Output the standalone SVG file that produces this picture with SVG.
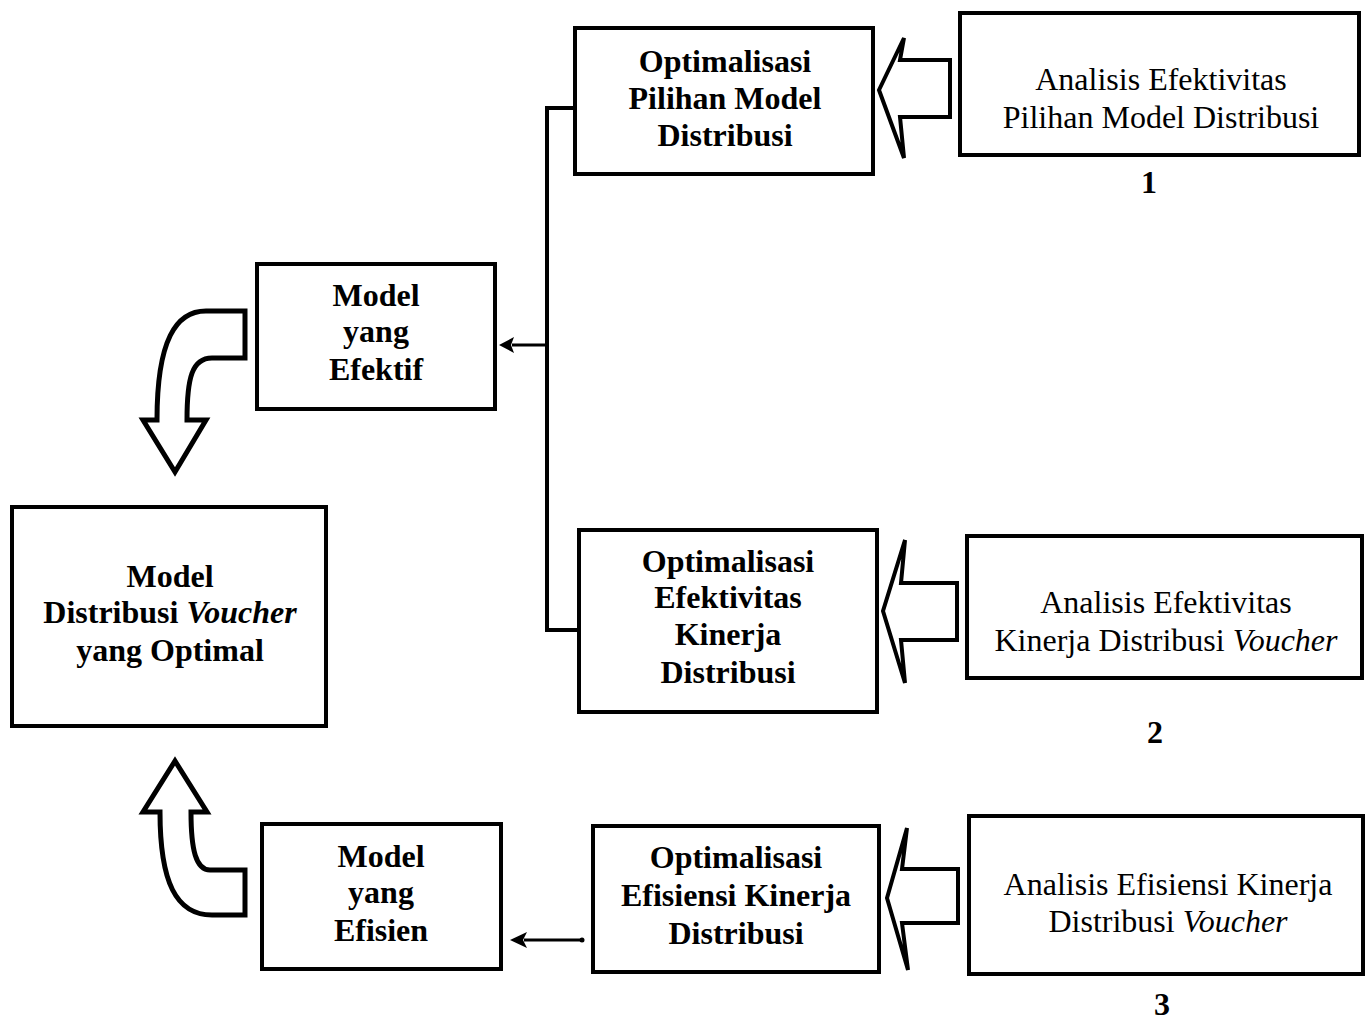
<svg xmlns="http://www.w3.org/2000/svg" width="1366" height="1022" viewBox="0 0 1366 1022">
  <style>
    .box { fill: #ffffff; stroke: #000000; stroke-width: 4; }
    .blk { fill: #ffffff; stroke: #000000; stroke-width: 4; stroke-linejoin: miter; }
    .curl { fill: #ffffff; stroke: #000000; stroke-width: 5; stroke-linejoin: miter; }
    .line { fill: none; stroke: #000000; stroke-width: 4; }
    .thin { fill: none; stroke: #000000; stroke-width: 3; }
    text { font-family: "Liberation Serif", "Times New Roman", serif; font-size: 32px; fill: #000000; text-anchor: middle; }
    .b { font-weight: bold; }
    .i { font-style: italic; }
  </style>

  <rect width="1366" height="1022" fill="#ffffff"/>

  <!-- connectors -->
  <g id="connectors">
    <!-- bracket joining the two effectiveness optimisations -->
    <polyline class="line" points="574,108 547,108 547,630 578,630"/>
    <line class="thin" x1="547" y1="345" x2="512" y2="345"/>
    <path d="M499,345 L514,337 L511,345 L514,353 Z" fill="#000000"/>
    <!-- efficiency optimisation to efficient model -->
    <line class="thin" x1="583" y1="940" x2="524" y2="940"/>
    <circle cx="582" cy="940" r="2.5" fill="#000000"/>
    <path d="M510,940 L527,932 L523,940 L527,948 Z" fill="#000000"/>

    <!-- block arrows from analyses -->
    <polygon class="blk" points="950,60 900,60 904,38 879,90 904,158 900,117 950,117"/>
    <polygon class="blk" points="957,583 901,583 905,540 883,611 905,683 901,640 957,640"/>
    <polygon class="blk" points="958,869 902,869 907,828 887,898 908,970 902,923 958,923"/>

    <!-- curved arrows into the optimal model -->
    <path class="curl" d="M245,311 L206,311 C176,311 157,340 157,420 L143,420 L175,472 L206,420 L187,420 C187,378 192,358 212,358 L245,358 Z"/>
    <path class="curl" d="M245,870 L210,870 C196,870 191,850 191,812 L207,812 L175,761 L143,812 L160,812 C160,882 176,915 212,915 L245,915 Z"/>
  </g>

  <g id="opt-pilihan">
    <rect class="box" x="575" y="28" width="298" height="146"/>
    <text class="b" x="725" y="72">Optimalisasi</text>
    <text class="b" x="725" y="109">Pilihan Model</text>
    <text class="b" x="725" y="146">Distribusi</text>
  </g>

  <g id="analisis-pilihan">
    <rect class="box" x="960" y="13" width="399" height="142"/>
    <text x="1161" y="90">Analisis Efektivitas</text>
    <text x="1161" y="128">Pilihan Model Distribusi</text>
    <text class="b" x="1149" y="193">1</text>
  </g>

  <g id="model-efektif">
    <rect class="box" x="257" y="264" width="238" height="145"/>
    <text class="b" x="376" y="306">Model</text>
    <text class="b" x="376" y="342">yang</text>
    <text class="b" x="376" y="380">Efektif</text>
  </g>

  <g id="model-optimal">
    <rect class="box" x="12" y="507" width="314" height="219"/>
    <text class="b" x="170" y="587">Model</text>
    <text class="b" x="170" y="623">Distribusi <tspan class="i">Voucher</tspan></text>
    <text class="b" x="170" y="661">yang Optimal</text>
  </g>

  <g id="opt-efektivitas">
    <rect class="box" x="579" y="530" width="298" height="182"/>
    <text class="b" x="728" y="572">Optimalisasi</text>
    <text class="b" x="728" y="608">Efektivitas</text>
    <text class="b" x="728" y="645">Kinerja</text>
    <text class="b" x="728" y="683">Distribusi</text>
  </g>

  <g id="analisis-efektivitas">
    <rect class="box" x="967" y="536" width="395" height="142"/>
    <text x="1166" y="613">Analisis Efektivitas</text>
    <text x="1166" y="651">Kinerja Distribusi <tspan class="i">Voucher</tspan></text>
    <text class="b" x="1155" y="743">2</text>
  </g>

  <g id="model-efisien">
    <rect class="box" x="262" y="824" width="239" height="145"/>
    <text class="b" x="381" y="867">Model</text>
    <text class="b" x="381" y="903">yang</text>
    <text class="b" x="381" y="941">Efisien</text>
  </g>

  <g id="opt-efisiensi">
    <rect class="box" x="593" y="826" width="286" height="146"/>
    <text class="b" x="736" y="868">Optimalisasi</text>
    <text class="b" x="736" y="906">Efisiensi Kinerja</text>
    <text class="b" x="736" y="944">Distribusi</text>
  </g>

  <g id="analisis-efisiensi">
    <rect class="box" x="969" y="816" width="394" height="158"/>
    <text x="1168" y="895">Analisis Efisiensi Kinerja</text>
    <text x="1168" y="932">Distribusi <tspan class="i">Voucher</tspan></text>
    <text class="b" x="1162" y="1015" font-size="30">3</text>
  </g>
</svg>
